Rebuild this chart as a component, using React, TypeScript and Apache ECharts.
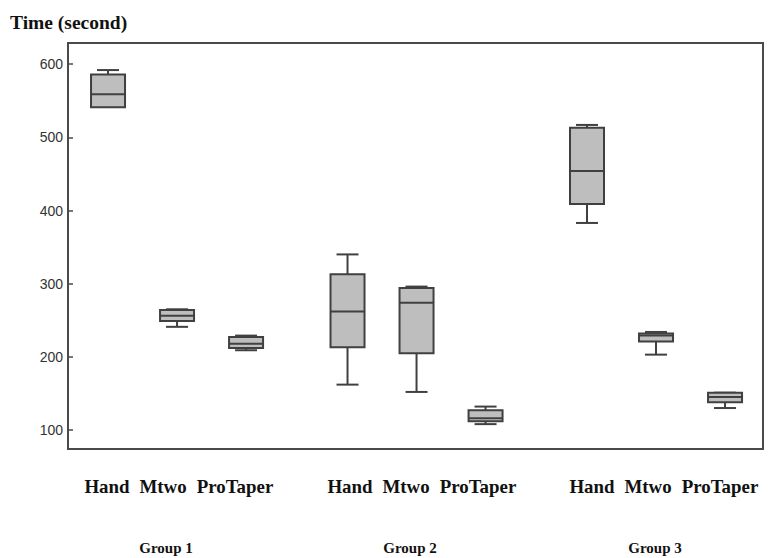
import React, { useEffect, useRef } from "react";
import * as echarts from "echarts";

const groups = ["Group 1", "Group 2", "Group 3"];
const methods = ["Hand", "Mtwo", "ProTaper"];
// [min, Q1, median, Q3, max] for each group, in method order
const group1Values = [
  [541, 541, 559, 586, 592],
  [241, 249, 256, 264, 265],
  [209, 212, 218, 227, 229],
];
const group2Values = [
  [162, 213, 262, 313, 340],
  [152, 205, 274, 294, 296],
  [108, 112, 116, 127, 132],
];
const group3Values = [
  [383, 409, 454, 513, 517],
  [203, 221, 229, 232, 234],
  [130, 138, 145, 151, 151],
];
const yTicks = [100, 200, 300, 400, 500, 600];
const yLabel = "Time (second)";

const allValues = [group1Values, group2Values, group3Values];

export default function App() {
  const ref = useRef<HTMLDivElement>(null);
  useEffect(() => {
    if (!ref.current) return;
    const chart = echarts.init(ref.current, null, { renderer: "svg" });
    const groupStride = 3.47;
    const data: number[][] = [];
    allValues.forEach((g, gi) => {
      g.forEach((v, mi) => {
        data.push([gi * groupStride + mi, ...v]);
      });
    });
    const stroke = "#404040";
    const fill = "#bebebe";
    const serif = "'Liberation Serif', 'Times New Roman', serif";
    const groupStartPx = [85, 328, 570];
    const wordOffsets = [22, 78, 150];
    const groupLabelPx = [166, 410, 655];
    const graphics: any[] = [
      {
        type: "text",
        x: 10,
        y: 22,
        style: {
          text: yLabel,
          font: `bold 19.5px ${serif}`,
          fill: "#111",
          textAlign: "left",
          textVerticalAlign: "middle",
        },
      },
    ];
    groups.forEach((g, gi) => {
      methods.forEach((m, mi) => {
        graphics.push({
          type: "text",
          x: groupStartPx[gi] + wordOffsets[mi],
          y: 487,
          scaleX: 1.05,
          style: {
            text: m,
            font: `bold 18px ${serif}`,
            fill: "#111",
            textAlign: "center",
            textVerticalAlign: "middle",
          },
        });
      });
      graphics.push({
        type: "text",
        x: groupLabelPx[gi],
        y: 548,
        style: {
          text: g,
          font: `bold 15px ${serif}`,
          fill: "#111",
          textAlign: "center",
          textVerticalAlign: "middle",
        },
      });
    });

    chart.setOption({
      animation: false,
      grid: {
        left: 68,
        right: 7,
        top: 43,
        bottom: 109,
        show: true,
        borderColor: "#4a4a4a",
        borderWidth: 2,
        backgroundColor: "transparent",
      },
      xAxis: {
        type: "value",
        min: -0.58,
        max: 9.49,
        show: false,
      },
      yAxis: {
        type: "value",
        min: 74,
        max: 629,
        axisLine: { show: true, onZero: false, lineStyle: { color: "#4a4a4a", width: 2 } },
        axisTick: {
          show: true,
          inside: true,
          length: 5,
          customValues: yTicks,
          lineStyle: { color: "#4a4a4a", width: 1.5 },
        },
        axisLabel: {
          customValues: yTicks,
          fontSize: 14,
          color: "#333",
          margin: 5,
          fontFamily: "'Liberation Sans', Arial, sans-serif",
        },
        splitLine: { show: false },
      },
      graphic: graphics,
      series: [
        {
          type: "custom",
          data,
          encode: { x: 0, y: [1, 2, 3, 4, 5] },
          renderItem: (params: any, api: any) => {
            const x = api.value(0);
            const vals = [1, 2, 3, 4, 5].map((i) => api.value(i));
            const pts = vals.map((v) => api.coord([x, v]));
            const cx = pts[0][0];
            const [pMin, pQ1, pMed, pQ3, pMax] = pts.map((p: number[]) => p[1]);
            const bw = 34;
            const cw = 22;
            const ls = { stroke, lineWidth: 2 };
            const children: any[] = [];
            if (Math.abs(pMax - pQ3) > 0.5) {
              children.push({ type: "line", shape: { x1: cx, y1: pMax, x2: cx, y2: pQ3 }, style: ls });
            }
            children.push({ type: "line", shape: { x1: cx - cw / 2, y1: pMax, x2: cx + cw / 2, y2: pMax }, style: ls });
            if (Math.abs(pQ1 - pMin) > 0.5) {
              children.push({ type: "line", shape: { x1: cx, y1: pQ1, x2: cx, y2: pMin }, style: ls });
              children.push({ type: "line", shape: { x1: cx - cw / 2, y1: pMin, x2: cx + cw / 2, y2: pMin }, style: ls });
            }
            children.push({
              type: "rect",
              shape: { x: cx - bw / 2, y: pQ3, width: bw, height: pQ1 - pQ3 },
              style: { fill, stroke, lineWidth: 2 },
            });
            children.push({ type: "line", shape: { x1: cx - bw / 2, y1: pMed, x2: cx + bw / 2, y2: pMed }, style: ls });
            return { type: "group", children };
          },
        },
      ],
    });
    return () => chart.dispose();
  }, []);
  return (
    <div
      ref={ref}
      style={{ position: "fixed", left: 0, top: 0, width: 770, height: 558, background: "#fff" }}
    />
  );
}
